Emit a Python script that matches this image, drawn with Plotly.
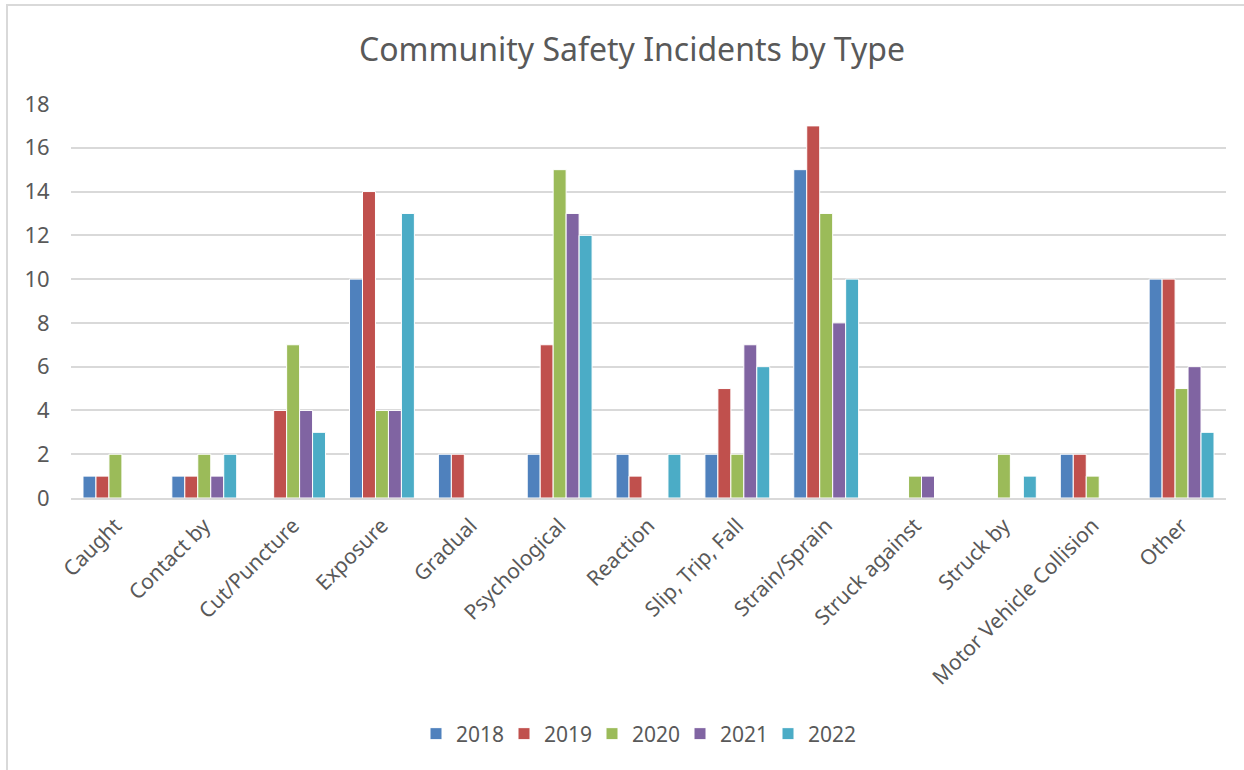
import plotly.graph_objects as go

categories = ["Caught", "Contact by", "Cut/Puncture", "Exposure", "Gradual",
              "Psychological", "Reaction", "Slip, Trip, Fall", "Strain/Sprain",
              "Struck against", "Struck by", "Motor Vehicle Collision", "Other"]

years = ["2018", "2019", "2020", "2021", "2022"]

v2018 = [1, 1, 0, 10, 2, 2, 2, 2, 15, 0, 0, 2, 10]
v2019 = [1, 1, 4, 14, 2, 7, 1, 5, 17, 0, 0, 2, 10]
v2020 = [2, 2, 7, 4, 0, 15, 0, 2, 13, 1, 2, 1, 5]
v2021 = [0, 1, 4, 4, 0, 13, 0, 7, 8, 1, 0, 0, 6]
v2022 = [0, 2, 3, 13, 0, 12, 2, 6, 10, 0, 1, 0, 3]

colors = ["#4F81BD", "#C0504D", "#9BBB59", "#8064A2", "#4BACC6"]
series = [v2018, v2019, v2020, v2021, v2022]

W, H = 1244, 770
ML, MR, MT, MB = 71, 18, 104, 272
pw, ph = W - ML - MR, H - MT - MB

def px_x(x):
    return (x - ML) / pw

def px_y(y):
    return (H - MB - y) / ph

FONT = "Noto Sans"
GREY = "#595959"

fig = go.Figure()
for name, vals, col in zip(years, series, colors):
    fig.add_trace(go.Bar(
        x=categories, y=vals, name=name,
        marker=dict(color=col, line=dict(color="white", width=1)),
    ))

fig.update_layout(
    width=W, height=H,
    margin=dict(l=ML, r=MR, t=MT, b=MB, autoexpand=False),
    paper_bgcolor="white", plot_bgcolor="white",
    barmode="group", bargap=0.27, bargroupgap=0,
    title=dict(text="Community Safety Incidents by Type",
               x=px_x(632), xref="paper", xanchor="center",
               y=1 - 50 / H, yanchor="middle",
               font=dict(family=FONT, size=32, color=GREY)),
    font=dict(family=FONT, color=GREY),
    showlegend=True,
    legend=dict(orientation="h", x=px_x(636), xanchor="center",
                y=px_y(734), yanchor="middle",
                font=dict(family=FONT, size=21, color=GREY),
                entrywidth=43, entrywidthmode="pixels",
                itemwidth=30, tracegroupgap=0),
    shapes=[dict(type="rect", xref="paper", yref="paper",
                 x0=px_x(7), x1=px_x(1247), y0=px_y(775), y1=px_y(5),
                 line=dict(color="#D9D9D9", width=2), layer="below")],
)

fig.update_xaxes(
    tickangle=-45, showgrid=False, showline=True,
    linecolor="#D9D9D9", linewidth=2,
    tickfont=dict(family=FONT, size=21, color=GREY),
    ticks="outside", ticklen=5, tickcolor="white", fixedrange=True,
)
fig.update_yaxes(
    range=[0, 18], dtick=2, showgrid=True, gridcolor="#D9D9D9", gridwidth=2,
    zeroline=False, showline=False,
    tickfont=dict(family=FONT, size=22, color=GREY),
    ticks="outside", ticklen=16, tickcolor="white", fixedrange=True,
)

fig.write_html("out.html")
